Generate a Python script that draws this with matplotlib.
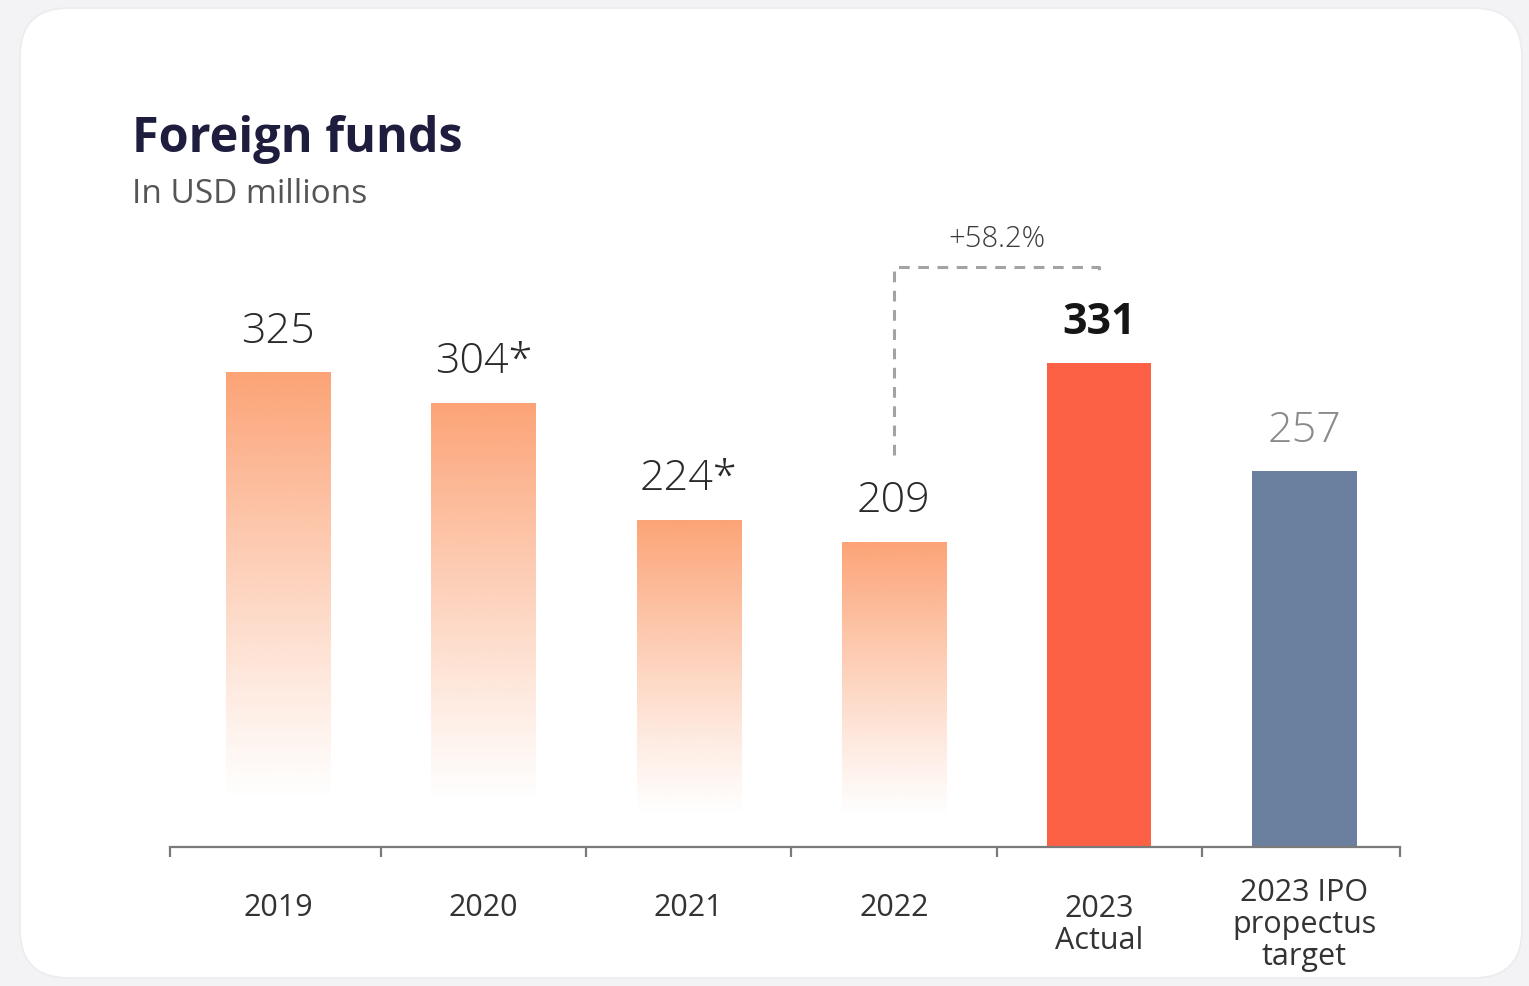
import numpy as np
import matplotlib.pyplot as plt
from matplotlib.patches import FancyBboxPatch, Rectangle
from matplotlib.colors import to_rgb

# data
categories = ["2019", "2020", "2021", "2022", "2023\nActual", "2023 IPO\npropectus\ntarget"]
values = [325, 304, 224, 209, 331, 257]
value_labels = ["325", "304*", "224*", "209", "331", "257"]
growth_label = "+58.2%"

W, H = 1529, 986
fig = plt.figure(figsize=(W / 100, H / 100), dpi=100)
fig.patch.set_facecolor("#f3f3f5")

# white card behind the chart
card = FancyBboxPatch((20 / W, 8 / H), 1502 / W, 970 / H,
                      boxstyle="round,pad=0,rounding_size=0.032",
                      transform=fig.transFigure, facecolor="white",
                      edgecolor="#ececef", linewidth=1.2, mutation_aspect=W / H,
                      zorder=-10)
fig.patches.append(card)

FONT = "Open Sans"
fig.text(132 / W, 1 - 152 / H, "Foreign funds", fontsize=35, fontweight="bold",
         color="#1f1d3d", family=FONT, va="baseline", ha="left")
fig.text(132 / W, 1 - 203 / H, "In USD millions", fontsize=24, color="#555555",
         family=FONT, va="baseline", ha="left")

# axes placed so that the baseline sits at y=847px
px_per_unit = 1.4615
base_px, top_px = 847, 200
left_px, right_px = 170, 1400
ax = fig.add_axes([left_px / W, 1 - base_px / H, (right_px - left_px) / W, (base_px - top_px) / H])
ax.set_facecolor("none")
ax.set_zorder(5)
ymax = (base_px - top_px) / px_per_unit
step = 205.3
x0 = (left_px - 278) / step
x1 = (right_px - 278) / step

xs = np.arange(len(values))
bw = 0.507

# fading orange bars for the historical years
grad_top = np.array(to_rgb("#fca376"))
for i in range(4):
    v = values[i]
    rect = Rectangle((xs[i] - bw / 2, 0), bw, v, facecolor="none", edgecolor="none")
    ax.add_patch(rect)
    t = np.linspace(0, 1, 300)[:, None]  # 0 bottom -> 1 top
    a = np.clip((t - 0.1) / 0.9, 0, 1) ** 1.1
    img = np.ones((300, 2, 4))
    img[..., :3] = grad_top
    img[..., 3] = a
    im = ax.imshow(img, extent=(xs[i] - bw / 2, xs[i] + bw / 2, 0, v), origin="lower",
                   aspect="auto", interpolation="bilinear", zorder=2)
    im.set_clip_path(rect)

ax.bar(xs[4], values[4], width=bw, color="#fd6145", zorder=2)
ax.bar(xs[5], values[5], width=bw, color="#6b7f9f", zorder=2)
ax.set_xlim(x0, x1)
ax.set_ylim(0, ymax)

lab_off = 20  # value units between bar top and label baseline
for i, (v, s) in enumerate(zip(values, value_labels)):
    if i == 4:
        kw = dict(color="#151515", fontweight="bold")
    elif i == 5:
        kw = dict(color="#8a8a8a", fontweight="light")
    else:
        kw = dict(color="#2a2a2a", fontweight="light")
    ax.text(xs[i], v + lab_off, s, ha="center", va="baseline", fontsize=31, family=FONT,
            zorder=3, **kw)

# dashed bracket from 2022 to 2023 actual
yb_top = (base_px - 267) / px_per_unit
ax.plot([3, 3, 4, 4], [values[3] + 59, yb_top, yb_top, yb_top - 7],
        color="#a3a3a3", lw=2.2, ls=(0, (3.5, 2.8)), dash_capstyle="butt", zorder=3,
        clip_on=False)
ax.text(3.5, yb_top + 14, growth_label, ha="center", va="baseline", fontsize=21,
        family=FONT, color="#3a3a3a", fontweight="light")

# axis styling
for s in ["top", "right", "left"]:
    ax.spines[s].set_visible(False)
ax.spines["bottom"].set_color("#7a7a7a")
ax.spines["bottom"].set_linewidth(1.6)
ax.set_yticks([])
ticks = [x0] + [i + 0.5 for i in range(5)] + [x1]
ax.set_xticks(ticks)
ax.set_xticklabels([])
ax.tick_params(axis="x", direction="out", length=7, width=1.6, color="#7a7a7a")

for i, c in enumerate(categories):
    ypx = 908 if "\n" not in c else 925
    ax.text(xs[i], -(ypx - base_px) / (base_px - top_px), c,
            transform=ax.get_xaxis_transform(), ha="center", va="center",
            fontsize=22, family=FONT, color="#333333", linespacing=1.08)

fig.savefig("out.png", dpi=100, facecolor=fig.get_facecolor())
